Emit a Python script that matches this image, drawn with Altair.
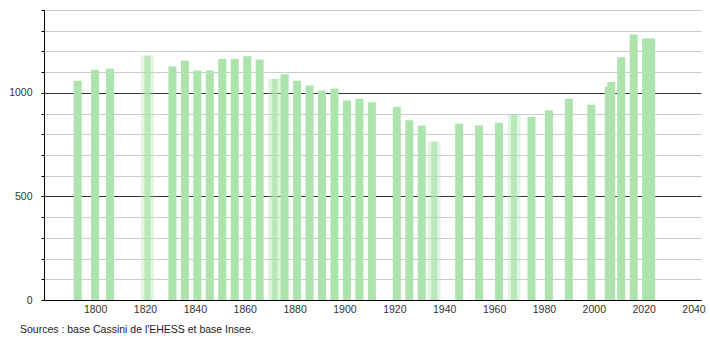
import altair as alt
import pandas as pd

# ---- data ----
years = [1793, 1800, 1806, 1821, 1831, 1836, 1841, 1846, 1851, 1856, 1861, 1866,
         1872, 1876, 1881, 1886, 1891, 1896, 1901, 1906, 1911, 1921, 1926, 1931,
         1936, 1946, 1954, 1962, 1968, 1975, 1982, 1990, 1999, 2006, 2007, 2011,
         2016, 2021, 2023]
population = [1059, 1111, 1116, 1180, 1127, 1155, 1108, 1108, 1164, 1164, 1177, 1161,
              1068, 1090, 1059, 1035, 1011, 1021, 963, 972, 955, 932, 868, 842,
              764, 851, 842, 855, 895, 884, 916, 971, 943, 1030, 1053, 1172,
              1282, 1263, 1263]
blurred_years = [1821, 1872, 1936, 1968]
source_text = ["Sources : base Cassini de l'EHESS et base Insee."]
x_ticks = list(range(1800, 2041, 20))
y_ticks = list(range(0, 1401, 100))

df = pd.DataFrame({"year": years, "pop": population})
df["blur"] = df["year"].isin(blurred_years)

GREEN = "#ade3ad"
FONT = "Liberation Sans"

xs = alt.Scale(domain=[1779.5, 2043], nice=False, zero=False, padding=0)
ys = alt.Scale(domain=[0, 1400], nice=False, padding=0)

x_axis = alt.Axis(values=x_ticks, format="d", title=None, grid=False, ticks=False,
                  domainColor="black", labelColor="#333333", labelFontSize=10.5,
                  labelFont=FONT, labelPadding=4, labelFlush=False)
y_axis = alt.Axis(values=y_ticks, format="d", title=None,
                  labelExpr="datum.value % 500 === 0 ? datum.label : ''",
                  gridColor={"condition": {"test": "datum.value % 500 === 0", "value": "#333333"},
                             "value": "#cccccc"},
                  tickColor="black", tickSize=3, domainColor="black",
                  labelColor="#333333", labelFontSize=10.5, labelFont=FONT, labelPadding=9)

X = alt.X("year:Q", scale=xs, axis=x_axis)
Y = alt.Y("pop:Q", scale=ys, axis=y_axis)

base = alt.Chart(df)

bars = base.transform_filter("!datum.blur").mark_bar(size=8, color=GREEN).encode(x=X, y=Y)
blur_wide = base.transform_filter("datum.blur").mark_bar(size=13, color=GREEN, opacity=0.35).encode(x=X, y=Y)
blur_core = base.transform_filter("datum.blur").mark_bar(size=6, color=GREEN, opacity=0.75).encode(x=X, y=Y)

source = alt.Chart(pd.DataFrame({"t": source_text})).mark_text(
    align="left", baseline="middle", fontSize=10.5, font=FONT, color="#222222"
).encode(text="t:N", x=alt.value(-24), y=alt.value(320))

chart = alt.layer(bars, blur_wide, blur_core, source).properties(
    width=657, height=290,
    padding={"left": 44, "top": 10, "right": 9, "bottom": 40},
    autosize=alt.AutoSizeParams(type="none"),
    background="white",
).configure_view(stroke=None)

chart.save("out.html", embed_options={"renderer": "svg", "actions": False})
